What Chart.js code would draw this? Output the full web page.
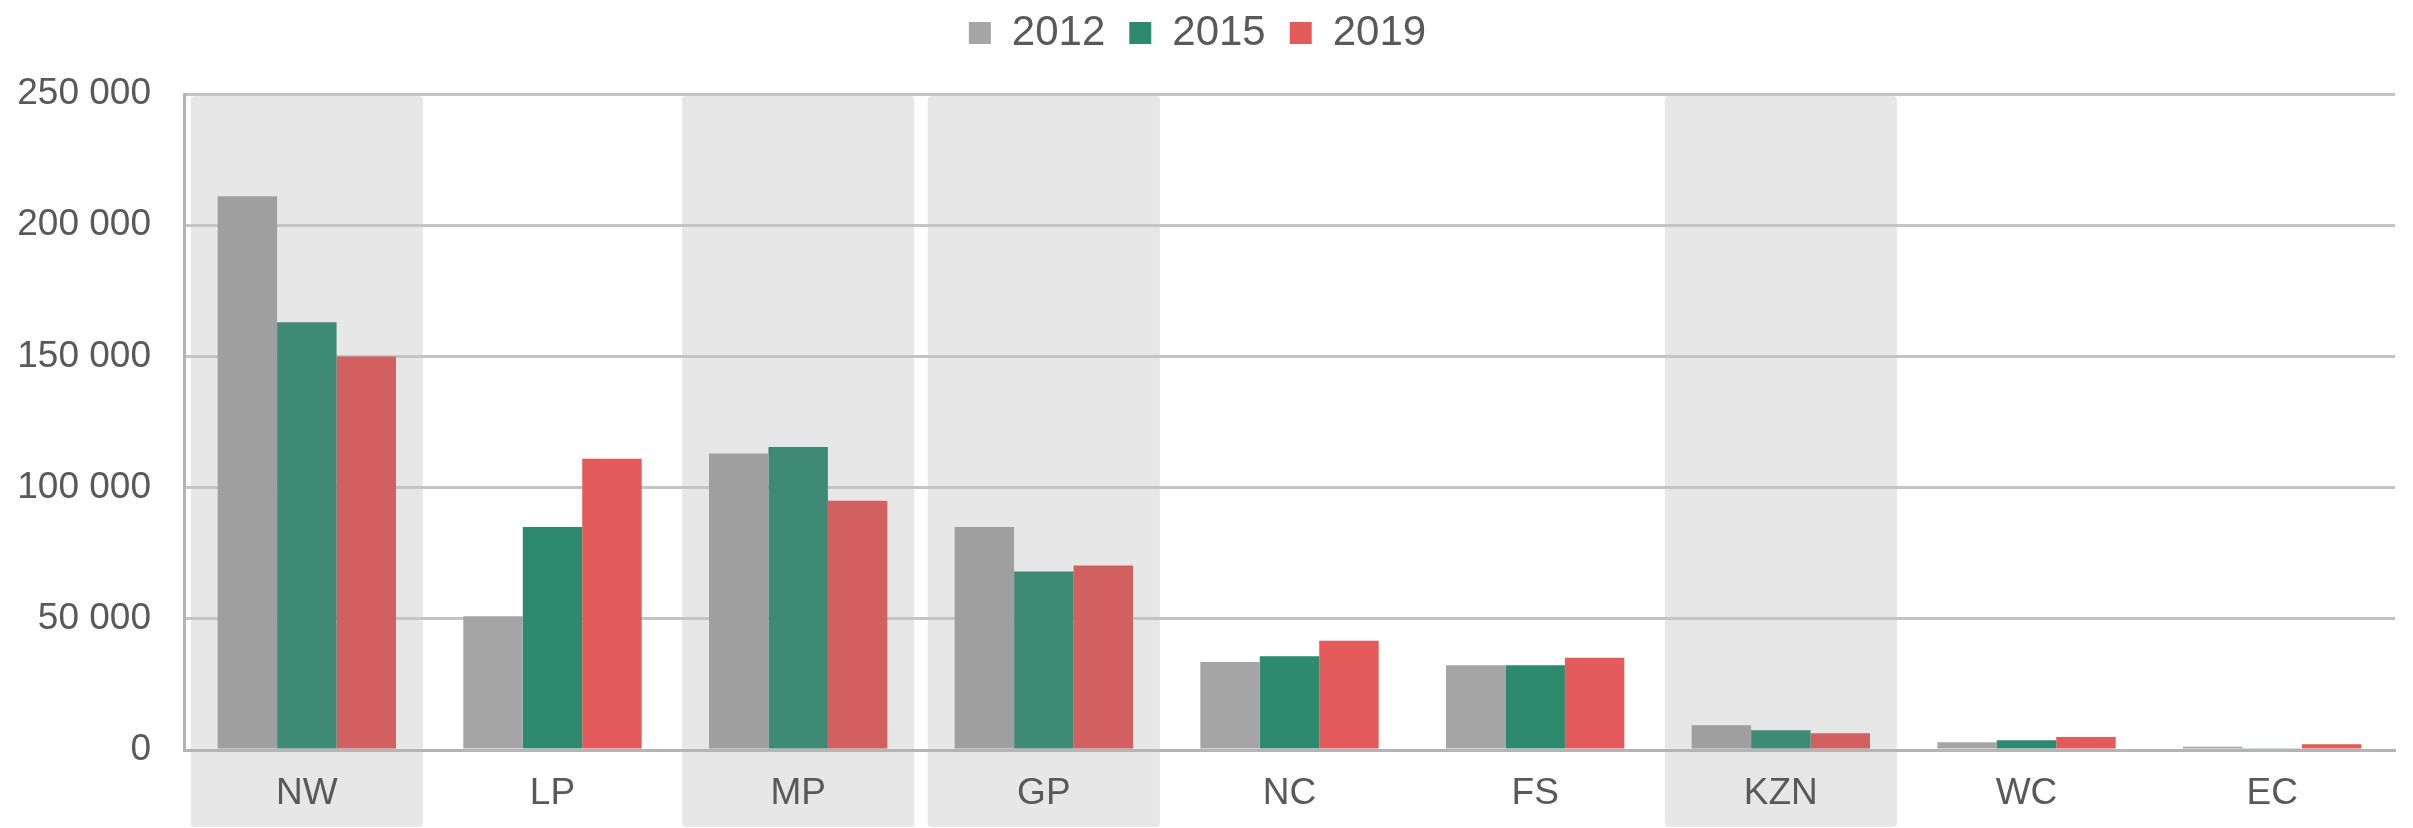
<!DOCTYPE html>
<html>
<head>
<meta charset="utf-8">
<script src="https://cdn.jsdelivr.net/npm/chart.js@4/dist/chart.umd.min.js"></script>
<style>
  html, body { margin: 0; padding: 0; background: #ffffff; }
  #wrap { width: 2413px; height: 828px; }
</style>
</head>
<body>
<div id="wrap"><canvas id="myChart" width="2413" height="828"></canvas></div>
<script>
const provinces = ['NW', 'LP', 'MP', 'GP', 'NC', 'FS', 'KZN', 'WC', 'EC'];
const shaded = ['NW', 'MP', 'GP', 'KZN'];
const years = ['2012', '2015', '2019'];
const values2012 = [211000, 51000, 113000, 85000, 33500, 32300, 9400, 3000, 1200];
const values2015 = [163000, 85000, 115500, 68000, 35700, 32300, 7500, 3700, 650];
const values2019 = [150000, 111000, 95000, 70300, 41600, 35200, 6400, 5000, 2200];
const yTicks = [0, 50000, 100000, 150000, 200000, 250000];

// plain colour / colour when the bar sits on a grey band
const colours = [
    ['#a5a5a5', '#9f9f9f'],
    ['#2e8a6e', '#3e8a74'],
    ['#e35b5b', '#d36060']
];

function barColours(i) {
    return provinces.map(p => shaded.includes(p) ? colours[i][1] : colours[i][0]);
}

// grey bands behind some categories, running down under the labels
const bandPlugin = {
    id: 'bands',
    beforeDraw(chart) {
        const ctx = chart.ctx;
        const x = chart.scales.x;
        const area = chart.chartArea;
        const step = (area.right - area.left) / provinces.length;
        const w = step * 0.945;
        ctx.save();
        ctx.fillStyle = '#e7e7e7';
        provinces.forEach((p, i) => {
            if (!shaded.includes(p)) return;
            const cx = x.getPixelForValue(i);
            ctx.beginPath();
            ctx.roundRect(cx - w / 2, area.top + 2, w, chart.height - area.top - 3, 4);
            ctx.fill();
        });
        ctx.restore();
    }
};

// reserve room under the legend so the plot starts lower
const legendSpace = {
    id: 'legendSpace',
    beforeInit(chart) {
        const fit = chart.legend.fit;
        chart.legend.fit = function () {
            fit.call(this);
            this.height = 106;
        };
    }
};

const tickFont = { family: 'Liberation Sans, Arial, sans-serif', size: 37 };

new Chart(document.getElementById('myChart').getContext('2d'), {
    type: 'bar',
    data: {
        labels: provinces,
        datasets: [
            { label: years[0], data: values2012, backgroundColor: barColours(0) },
            { label: years[1], data: values2015, backgroundColor: barColours(1) },
            { label: years[2], data: values2019, backgroundColor: barColours(2) }
        ]
    },
    options: {
        responsive: false,
        animation: false,
        categoryPercentage: 0.726,
        barPercentage: 1.0,
        layout: { padding: { left: 0, right: 18, top: -12, bottom: 0 } },
        plugins: {
            tooltip: { enabled: false },
            legend: {
                position: 'top',
                labels: {
                    color: '#595959',
                    font: { family: 'Liberation Sans, Arial, sans-serif', size: 42 },
                    boxWidth: 22,
                    boxHeight: 22,
                    padding: 24,
                    // legend swatches use the plain colour
                    generateLabels(chart) {
                        return chart.data.datasets.map((ds, i) => ({
                            text: ds.label,
                            fillStyle: colours[i][0],
                            strokeStyle: colours[i][0],
                            lineWidth: 0,
                            datasetIndex: i,
                            fontColor: '#595959'
                        }));
                    }
                }
            }
        },
        scales: {
            x: {
                afterFit(axis) {
                    axis.height = 78;
                },
                grid: { display: false, drawTicks: false },
                border: { display: true, color: '#b4b4b4', width: 3 },
                ticks: { color: '#595959', font: tickFont, padding: 22 }
            },
            y: {
                min: 0,
                max: 250000,
                afterBuildTicks(axis) {
                    axis.ticks = yTicks.map(v => ({ value: v }));
                },
                afterFit(axis) {
                    axis.width = 184;
                },
                grid: { color: '#c4c4c4', lineWidth: 3, drawTicks: false },
                border: { display: true, color: '#b4b4b4', width: 3 },
                ticks: {
                    color: '#595959',
                    font: tickFont,
                    padding: 33,
                    callback: v => v === 0 ? '0' : String(v).replace(/\B(?=(\d{3})+(?!\d))/g, ' ')
                }
            }
        }
    },
    plugins: [bandPlugin, legendSpace]
});
</script>
</body>
</html>
